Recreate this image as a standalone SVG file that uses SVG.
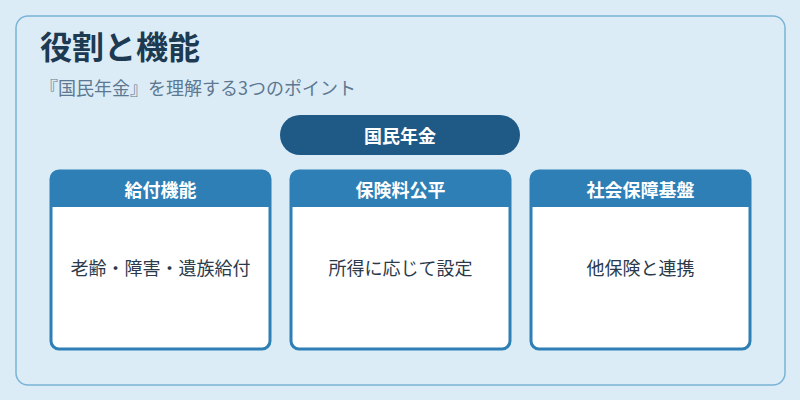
<svg xmlns="http://www.w3.org/2000/svg" width="800" height="400" viewBox="0 0 800 400">
<style>
text{font-family:"Noto Sans CJK JP","Noto Sans",sans-serif}
.hd{fill:#2e7fb5}
.body{fill:#ffffff;stroke:#2e7fb5;stroke-width:3}
.ht{fill:#ffffff;font-size:18px;font-weight:bold;text-anchor:middle}
.bt{fill:#2a3a4a;font-size:18px;text-anchor:middle}
</style>
<rect width="800" height="400" fill="#dcecf7"/>
<rect x="16" y="16" width="769" height="369" rx="12" fill="#dcecf7" stroke="#7ab3d6" stroke-width="1.5"/>
<text x="40" y="59" font-size="32" font-weight="bold" fill="#1c3a52">役割と機能</text>
<text x="40" y="95" font-size="18" fill="#5d7891">『国民年金』を理解する3つのポイント</text>
<g id="root">
<rect x="280" y="115" width="240" height="40" rx="20" fill="#1f5a87"/>
<text x="400" y="142.5" class="ht">国民年金</text>
</g>
<g id="connectors"></g>
<g id="n1">
<rect x="51" y="171" width="219" height="178" rx="8" class="body"/>
<path d="M51 207 V179 a8 8 0 0 1 8 -8 H262 a8 8 0 0 1 8 8 V207 Z" class="hd"/>
<text x="160.5" y="196.5" class="ht">給付機能</text>
<text x="160.5" y="275" class="bt">老齢・障害・遺族給付</text>
</g>
<g id="n2">
<rect x="291" y="171" width="219" height="178" rx="8" class="body"/>
<path d="M291 207 V179 a8 8 0 0 1 8 -8 H502 a8 8 0 0 1 8 8 V207 Z" class="hd"/>
<text x="400.5" y="196.5" class="ht">保険料公平</text>
<text x="400.5" y="275" class="bt">所得に応じて設定</text>
</g>
<g id="n3">
<rect x="531" y="171" width="219" height="178" rx="8" class="body"/>
<path d="M531 207 V179 a8 8 0 0 1 8 -8 H742 a8 8 0 0 1 8 8 V207 Z" class="hd"/>
<text x="640.5" y="196.5" class="ht">社会保障基盤</text>
<text x="640.5" y="275" class="bt">他保険と連携</text>
</g>
</svg>
